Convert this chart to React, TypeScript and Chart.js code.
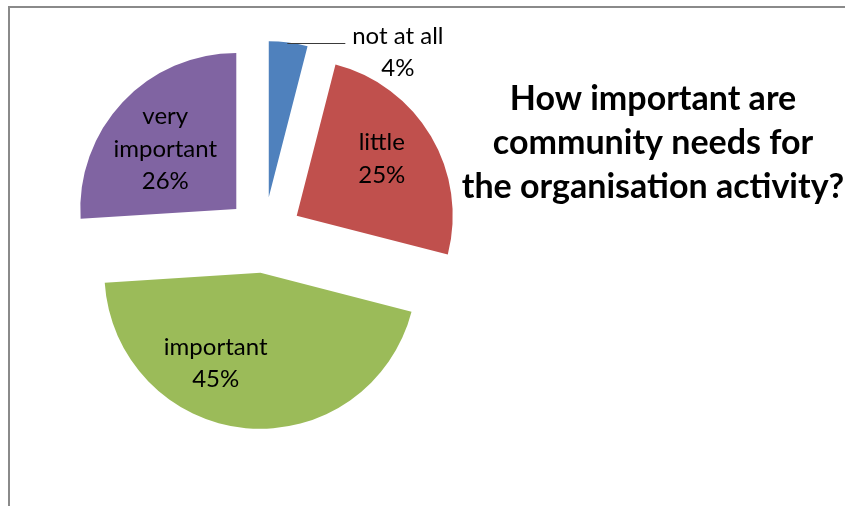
import { useEffect, useRef } from 'react';
import { Chart, registerables } from 'chart.js';

Chart.register(...registerables);

// ---- data ----
const categoryLines: string[][] = [['not at all'], ['little'], ['important'], ['very', 'important']];
const categories: string[] = categoryLines.map((l) => l.join(' '));
const percentages: number[] = [4, 25, 45, 26];
const sliceColors: string[] = ['#4F81BD', '#C0504D', '#9BBB59', '#8064A2'];
const titleLines: string[] = ['How important are', 'community needs for', 'the organisation activity?'];

// ---- style / layout ----
const W = 845;
const H = 506;
const EXPLODE = 38;
const LABEL_FONT = '24px Lato, "Open Sans", sans-serif';
const LABEL_LH = 32.5;
const TITLE_FONT = 'bold 34px Lato, "Open Sans", sans-serif';
const labelPlace = [
  { outside: true, frac: 0, shift: 0 },
  { outside: false, frac: 0.656, shift: -3.2 },
  { outside: false, frac: 0.645, shift: 21 },
  { outside: false, frac: 0.596, shift: -3 },
];

const borderPlugin = {
  id: 'frameBorder',
  beforeDraw(chart: any) {
    const ctx = chart.ctx;
    ctx.save();
    ctx.fillStyle = '#ffffff';
    ctx.fillRect(0, 0, W, H);
    ctx.fillStyle = '#8a8a8a';
    ctx.fillRect(8, 6, W, 2);
    ctx.fillRect(8, 6, 2, H);
    ctx.restore();
  },
};

const explodePlugin = {
  id: 'explodeSlices',
  afterDatasetUpdate(chart: any) {
    const meta = chart.getDatasetMeta(0);
    meta.data.forEach((arc: any) => {
      const mid = (arc.startAngle + arc.endAngle) / 2;
      arc.x += EXPLODE * Math.cos(mid);
      arc.y += EXPLODE * Math.sin(mid);
    });
  },
};

const labelPlugin = {
  id: 'sliceLabels',
  afterDatasetsDraw(chart: any) {
    const ctx = chart.ctx;
    const meta = chart.getDatasetMeta(0);
    ctx.save();
    ctx.font = LABEL_FONT;
    ctx.fillStyle = '#000000';
    ctx.textAlign = 'center';
    ctx.textBaseline = 'alphabetic';
    meta.data.forEach((arc: any, i: number) => {
      const lines = [...categoryLines[i], `${percentages[i]}%`];
      const mid = (arc.startAngle + arc.endAngle) / 2;
      const p = labelPlace[i];
      let ax: number;
      let ay: number;
      if (p.outside) {
        const sx = arc.x + arc.outerRadius * Math.cos(mid);
        const sy = arc.y + arc.outerRadius * Math.sin(mid);
        const ex = sx + 57;
        const ly = Math.round(sy) + 0.5;
        ctx.beginPath();
        ctx.strokeStyle = '#3a3a3a';
        ctx.lineWidth = 1;
        ctx.moveTo(sx - 1, ly);
        ctx.lineTo(ex, ly);
        ctx.stroke();
        ax = ex + 52.5;
        ay = sy + 9.3;
      } else {
        const a = mid + (p.shift * Math.PI) / 180;
        ax = arc.x + arc.outerRadius * p.frac * Math.cos(a);
        ay = arc.y + arc.outerRadius * p.frac * Math.sin(a);
      }
      lines.forEach((t, k) => {
        ctx.fillText(t, ax, ay + (k - (lines.length - 1) / 2) * LABEL_LH + 8);
      });
    });
    ctx.restore();
  },
};

const titlePlugin = {
  id: 'sideTitle',
  afterDraw(chart: any) {
    const ctx = chart.ctx;
    ctx.save();
    ctx.font = TITLE_FONT;
    ctx.fillStyle = '#000000';
    ctx.textAlign = 'center';
    ctx.textBaseline = 'alphabetic';
    titleLines.forEach((t, k) => {
      ctx.fillText(t, 653, 110 + k * 44);
    });
    ctx.restore();
  },
};

export default function App() {
  const canvasRef = useRef<HTMLCanvasElement | null>(null);

  useEffect(() => {
    if (!canvasRef.current) return;
    const chart = new Chart(canvasRef.current, {
      type: 'pie',
      data: {
        labels: categories,
        datasets: [
          {
            data: percentages,
            backgroundColor: sliceColors,
            borderWidth: 0,
            hoverBorderWidth: 0,
            offset: 0,
            hoverOffset: 0,
          } as any,
        ],
      },
      options: {
        responsive: false,
        animation: false,
        events: [],
        layout: { padding: { left: 108, top: 79, right: 425, bottom: 115 } },
        plugins: {
          legend: { display: false },
          title: { display: false },
          tooltip: { enabled: false },
        },
      },
      plugins: [borderPlugin, explodePlugin, labelPlugin, titlePlugin],
    });
    return () => chart.destroy();
  }, []);

  return (
    <div style={{ position: 'absolute', left: 0, top: 0, width: W, height: H, overflow: 'hidden' }}>
      <canvas ref={canvasRef} width={W} height={H} style={{ display: 'block', width: W, height: H }} />
    </div>
  );
}
